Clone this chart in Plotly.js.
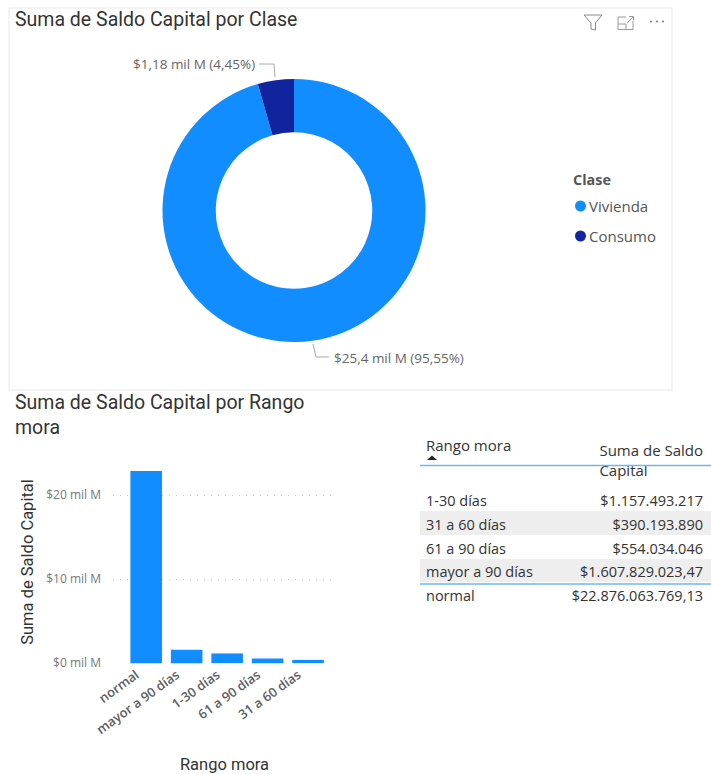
<!DOCTYPE html>
<html>
<head>
<meta charset="utf-8">
<script src="https://cdn.plot.ly/plotly-3.0.1.min.js"></script>
<style>html,body{margin:0;padding:0;background:#fff}#chart{width:711px;height:774px}</style>
</head>
<body>
<div id="chart"></div>
<script>
// Saldo capital por clase
const claseLabels = ['Vivienda', 'Consumo'];
const claseValues = [25.4, 1.18];
const claseColors = ['#118DFF', '#12239E'];
const claseTexts = ['$25,4 mil M (95,55%)', '$1,18 mil M (4,45%)'];

// Saldo capital por rango de mora, ordenado de mayor a menor
const moraLabels = ['normal', 'mayor a 90 días', '1-30 días', '61 a 90 días', '31 a 60 días'];
const moraValues = [22876063769.13, 1607829023.47, 1157493217, 554034046, 390193890];
const yTickVals = [0, 1e10, 2e10];
const yTickText = ['$0 mil M', '$10 mil M', '$20 mil M'];

// Tabla de detalle
const tableHeaders = ['Rango mora', 'Suma de Saldo Capital'];
const tableRangos = ['1-30 días', '31 a 60 días', '61 a 90 días', 'mayor a 90 días', 'normal', 'Total'];
const tableSaldos = ['$1.157.493.217', '$390.193.890', '$554.034.046', '$1.607.829.023,47', '$22.876.063.769,13', '$26.585.613.945,6'];
const tableBands = ['#ffffff', '#eeeeee', '#ffffff', '#eeeeee', '#ffffff', '#ffffff'];
const tableWeights = [400, 400, 400, 400, 400, 700];
const tableSizes = [14.5, 14.5, 14.5, 14.5, 14.5, 15.2];

const W = 711, H = 774;
const fx = px => px / W;
const fy = px => 1 - px / H;
const UI = '"Open Sans", "Noto Sans", sans-serif';
const HEAD = 'Roboto, sans-serif';

const paperPath = (d, color, width, fill) => ({
  type: 'path', xref: 'paper', yref: 'paper', path: d,
  line: {color: color, width: width}, fillcolor: fill || 'rgba(0,0,0,0)', layer: 'above'
});
// Converts pixel points on the page into a paper-space SVG path
const pts = (list, close) => 'M' + list.map(p => fx(p[0]).toFixed(5) + ',' + fy(p[1]).toFixed(5)).join(' L') + (close ? ' Z' : '');
const hline = (x0, x1, y, color, w) => ({type: 'line', xref: 'paper', yref: 'paper', x0: fx(x0), x1: fx(x1), y0: fy(y), y1: fy(y), line: {color: color, width: w}, layer: 'above'});
const dot = (cx, cy, r, color) => ({type: 'circle', xref: 'paper', yref: 'paper', x0: fx(cx - r), x1: fx(cx + r), y0: fy(cy + r), y1: fy(cy - r), fillcolor: color, line: {width: 0}, layer: 'above'});
const note = (text, x, y, anchor, size, color, family) => ({
  text: text, xref: 'paper', yref: 'paper', x: fx(x), y: fy(y), xanchor: anchor, yanchor: 'middle',
  showarrow: false, align: 'left', font: {size: size, color: color, family: family || UI}
});

const traces = [
  {
    type: 'pie', labels: claseLabels, values: claseValues, sort: false, direction: 'clockwise', rotation: 0,
    hole: 0.595, textinfo: 'none', marker: {colors: claseColors, line: {width: 0}},
    domain: {x: [fx(294 - 131.5), fx(294 + 131.5)], y: [fy(342), fy(79)]}, showlegend: false
  },
  {
    type: 'bar', x: moraLabels, y: moraValues, marker: {color: claseColors[0]}, width: 0.78,
    xaxis: 'x', yaxis: 'y', showlegend: false
  },
  {
    type: 'table',
    domain: {x: [fx(418), fx(711)], y: [fy(612), fy(432)]},
    columnwidth: [127, 166],
    header: {
      values: tableHeaders, align: ['left', 'right'], height: 33,
      font: {family: UI, size: 15, color: '#333333'},
      fill: {color: '#ffffff'}, line: {width: 0, color: 'rgba(0,0,0,0)'}
    },
    cells: {
      values: [tableRangos, tableSaldos], align: ['left', 'right'], height: 23.7,
      font: {family: UI, color: '#333333', size: [tableSizes, tableSizes], weight: [tableWeights, tableWeights]},
      fill: {color: [tableBands, tableBands]}, line: {width: 0, color: 'rgba(0,0,0,0)'}
    }
  }
];

const layout = {
  width: W, height: H, margin: {l: 0, r: 0, t: 0, b: 0},
  paper_bgcolor: '#ffffff', plot_bgcolor: '#ffffff', showlegend: false,
  title: {
    text: 'Suma de Saldo Capital por Clase', x: fx(15), xanchor: 'left', y: fy(19), yanchor: 'middle',
    font: {family: HEAD, size: 19.5, color: '#333333'}
  },
  xaxis: {
    domain: [fx(113), fx(336)], range: [-0.82, 4.69], type: 'category', anchor: 'y',
    tickangle: -36, tickfont: {family: UI, size: 13, weight: 600, color: '#606060'},
    ticklabelshift: -10,
    showgrid: false, showline: false, ticks: '', automargin: false,
    title: {text: 'Rango mora', standoff: 25, font: {family: HEAD, size: 16.5, color: '#333333'}}
  },
  yaxis: {
    domain: [fy(664), fy(460)], range: [-0.1e9, 24.17e9], anchor: 'x',
    tickvals: yTickVals, ticktext: yTickText, tickfont: {family: UI, size: 12, color: '#777777'},
    ticklabelstandoff: 11,
    showgrid: true, gridcolor: '#c4c4c4', griddash: '1px,6px', gridwidth: 1,
    zeroline: false, showline: false, ticks: '', ticklen: 0, automargin: false,
    title: {text: 'Suma de Saldo Capital', standoff: 8, font: {family: HEAD, size: 16.5, color: '#333333'}}
  },
  annotations: [
    note('Suma de Saldo Capital por Rango<br>mora', 13, 415, 'left', 19.5, '#333333', HEAD),
    note(claseTexts[1], 257, 64, 'right', 13.5, '#666666'),
    note(claseTexts[0], 332, 358, 'left', 13.5, '#666666'),
    note('<b>Clase</b>', 571, 180, 'left', 14.4, '#555555'),
    note(claseLabels[0], 587, 206, 'left', 15, '#555555'),
    note(claseLabels[1], 587, 236, 'left', 15, '#555555')
  ],
  shapes: [
    // Card outline around the donut
    {type: 'rect', xref: 'paper', yref: 'paper', x0: fx(9), x1: fx(672), y0: fy(390), y1: fy(8), line: {color: '#e8e8e8', width: 1}, layer: 'below'},
    // Donut leader lines
    paperPath(pts([[259, 64], [274, 64], [275, 77]]), '#aaaaaa', 1),
    paperPath(pts([[313, 344], [316, 357], [329, 357]]), '#aaaaaa', 1),
    // Legend markers
    dot(580.5, 206, 5.5, claseColors[0]),
    dot(580.5, 236, 5.5, claseColors[1]),
    // Header toolbar: filter, focus mode, more options
    paperPath(pts([[584, 15], [602, 15], [595.5, 23], [595.5, 30], [591, 29], [591, 23]], true), '#8a8a8a', 1),
    paperPath(pts([[626, 17], [618, 17], [618, 29.5], [633, 29.5], [633, 21]]), '#9a9a9a', 1),
    paperPath(pts([[618, 24], [626, 24], [626, 29.5]]), '#9a9a9a', 1),
    paperPath(pts([[627, 23], [633, 17]]), '#9a9a9a', 1),
    paperPath(pts([[629, 16.5], [633.5, 16.5], [633.5, 20.5]]), '#9a9a9a', 1),
    dot(651, 21.5, 1, '#777777'), dot(657, 21.5, 1, '#777777'), dot(663, 21.5, 1, '#777777'),
    // Table left gutter, rules and sort arrow
    {type: 'rect', xref: 'paper', yref: 'paper', x0: fx(417), x1: fx(420), y0: fy(612), y1: fy(432), fillcolor: '#ffffff', line: {width: 0}, layer: 'above'},
    hline(420, 711, 465.5, '#6AB7F5', 1.5),
    hline(420, 711, 584, '#6AB7F5', 1.5),
    paperPath(pts([[427, 460], [432, 455.5], [437, 460]], true), '#222222', 0, '#222222')
  ]
};

Plotly.newPlot('chart', traces, layout, {displayModeBar: false, responsive: false});
</script>
</body>
</html>
